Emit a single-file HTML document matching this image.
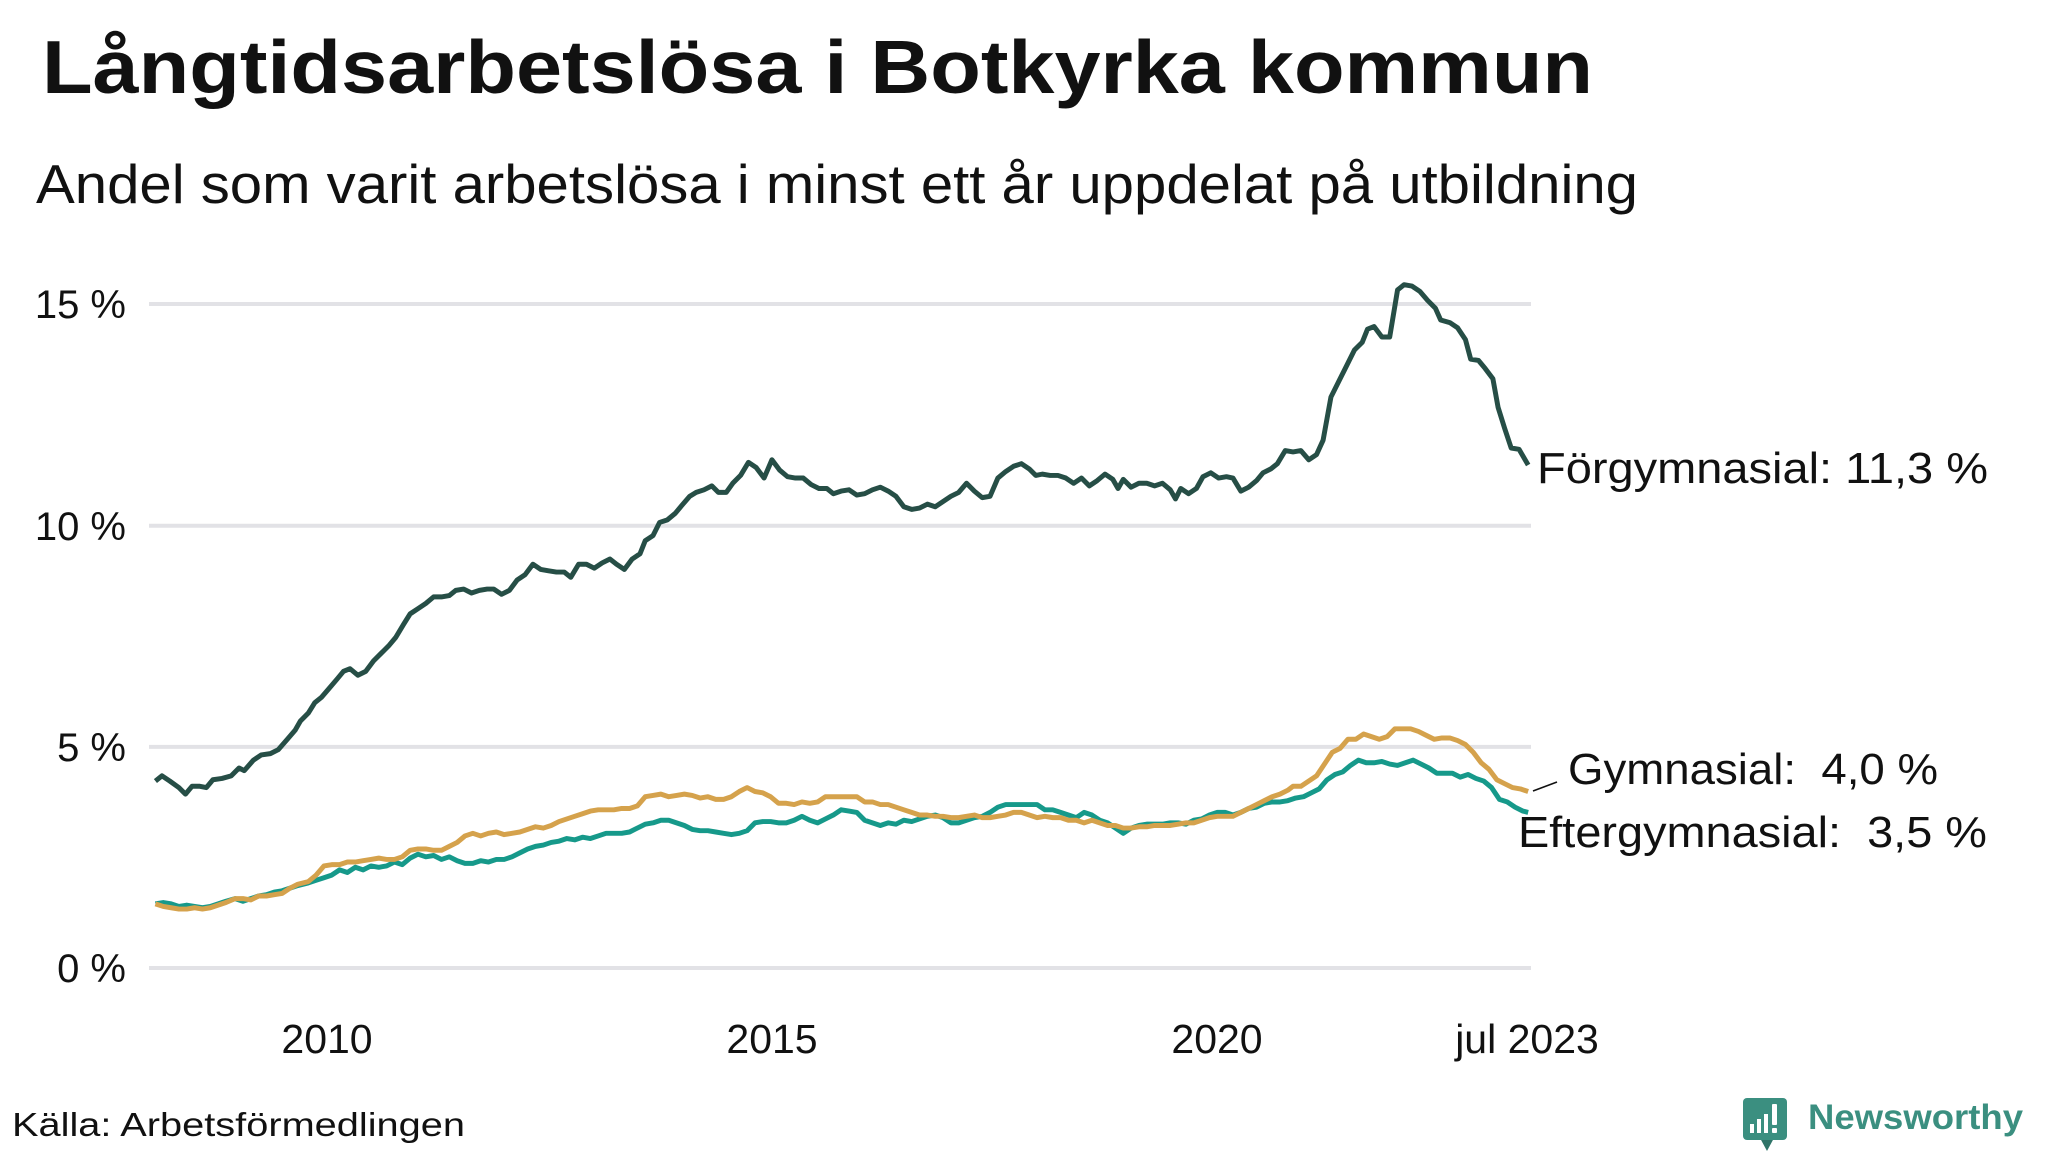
<!DOCTYPE html>
<html>
<head>
<meta charset="utf-8">
<style>
  html,body{margin:0;padding:0;background:#ffffff;}
  svg{display:block;}
  text{font-family:"Liberation Sans", sans-serif; fill:#111111; white-space:pre;}
</style>
</head>
<body>
<svg width="2048" height="1152" viewBox="0 0 2048 1152" xmlns="http://www.w3.org/2000/svg">
  <rect x="0" y="0" width="2048" height="1152" fill="#ffffff"/>

  <!-- Title & subtitle -->
  <text x="42" y="93" font-size="75" font-weight="bold" textLength="1551" lengthAdjust="spacingAndGlyphs">Långtidsarbetslösa i Botkyrka kommun</text>
  <text x="36" y="203" font-size="55" textLength="1602" lengthAdjust="spacingAndGlyphs">Andel som varit arbetslösa i minst ett år uppdelat på utbildning</text>

  <!-- Gridlines -->
  <g stroke="#e2e2e6" stroke-width="4">
    <line x1="149" y1="304" x2="1531" y2="304"/>
    <line x1="149" y1="525.7" x2="1531" y2="525.7"/>
    <line x1="149" y1="746.9" x2="1531" y2="746.9"/>
    <line x1="149" y1="968" x2="1531" y2="968"/>
  </g>

  <!-- Y labels -->
  <g font-size="40" text-anchor="end">
    <text x="126" y="318">15 %</text>
    <text x="126" y="540">10 %</text>
    <text x="126" y="761">5 %</text>
    <text x="126" y="982">0 %</text>
  </g>

  <!-- X labels -->
  <g font-size="41" text-anchor="middle">
    <text x="327" y="1053">2010</text>
    <text x="772" y="1053">2015</text>
    <text x="1217" y="1053">2020</text>
    <text x="1527" y="1053">jul 2023</text>
  </g>

  <!-- Series (drawn in displayed coords, scaled) -->
  <g transform="scale(1.30612)" fill="none" stroke-linejoin="round" stroke-linecap="butt" stroke-width="3.8">
    <polyline stroke="#264e46" points="119,598 124,594 130,598 137,603 142,608 147,602 153,602 158,603 163,597 170,596 177,594 183,588 187,590 194,582 200,578 207,577 213,574 220,566 226,559 230,552 236,546 241,538 246,534 252,527 258,520 263,514 268,512 274,517 280,514 286,506 292,500 298,494 303,488 309,478 314,470 320,466 326,462 332,457 338,457 344,456 349,452 355,451 361,454 367,452 373,451 378,451 384,455 390,452 396,444 402,440 408,432 414,436 420,437 426,438 432,438 437,442 443,432 449,432 455,435 461,431 467,428 472,432 478,436 484,428 490,424 494,414 500,410 505,400 511,398 517,393 522,387 528,380 533,377 539,375 545,372 550,377 556,377 561,370 567,364 573,354 579,358 585,366 591,352 597,360 603,365 609,366 615,366 621,371 627,374 633,374 638,378 644,376 650,375 656,379 662,378 668,375 674,373 680,376 686,380 692,388 698,390 704,389 710,386 716,388 722,384 728,380 734,377 740,370 746,376 752,381 758,380 764,366 770,361 776,357 782,355 788,359 793,364 798,363 804,364 810,364 816,366 822,370 828,366 834,372 840,368 846,363 852,367 856,374 860,367 866,373 872,370 878,370 884,372 890,370 896,375 900,382 904,374 910,378 916,374 921,365 927,362 933,366 939,365 944,366 950,376 956,373 962,368 967,362 973,359 978,355 984,345 990,346 996,345 1002,352 1008,348 1013,337 1019,304 1025,292 1031,280 1037,268 1043,262 1047,252 1052,250 1058,258 1064,258 1070,222 1075,218 1081,219 1087,223 1093,230 1099,236 1103,245 1110,247 1116,251 1122,260 1126,275 1132,276 1137,282 1143,290 1147,312 1152,328 1157,343 1163,344 1170,356"/>
    <polyline stroke="#16998a" points="119,692 125,691 131,692 137,694 143,693 149,694 155,695 161,694 167,692 173,690 180,688 186,690 192,688 198,686 204,685 210,683 216,682 222,680 228,678 236,676 242,674 248,672 254,670 260,666 266,668 272,664 278,666 284,663 290,664 296,663 302,660 308,662 314,657 320,654 326,656 332,655 338,658 344,656 350,659 356,661 362,661 368,659 374,660 380,658 386,658 392,656 398,653 404,650 410,648 416,647 422,645 428,644 434,642 440,643 446,641 452,642 458,640 464,638 470,638 476,638 482,637 488,634 494,631 500,630 506,628 512,628 518,630 524,632 530,635 536,636 542,636 548,637 554,638 560,639 566,638 572,636 578,630 584,629 590,629 596,630 602,630 608,628 614,625 620,628 626,630 632,627 638,624 644,620 650,621 656,622 662,628 668,630 674,632 680,630 686,631 692,628 698,629 704,627 710,625 716,624 722,626 728,630 734,630 740,628 746,626 752,625 758,622 764,618 770,616 776,616 782,616 788,616 794,616 800,620 806,620 812,622 818,624 824,626 830,622 836,624 842,628 848,630 854,634 860,638 866,634 872,632 878,631 884,631 890,631 896,630 902,630 908,631 914,628 920,627 926,624 932,622 938,622 944,624 950,622 956,619 962,618 968,615 974,614 980,614 986,613 992,611 998,610 1004,607 1010,604 1016,597 1022,593 1028,591 1034,586 1040,582 1046,584 1052,584 1058,583 1064,585 1070,586 1076,584 1082,582 1088,585 1094,588 1100,592 1106,592 1112,592 1118,595 1124,593 1130,596 1136,598 1142,603 1148,612 1154,614 1160,618 1166,621 1170,622"/>
    <polyline stroke="#d5a24c" points="119,692 125,694 131,695 137,696 143,696 149,695 155,696 161,695 167,693 173,691 180,688 186,688 192,689 198,686 204,686 210,685 216,684 222,680 228,677 236,675 242,670 248,663 254,662 260,662 266,660 272,660 278,659 284,658 290,657 296,658 302,658 308,656 314,651 320,650 326,650 332,651 338,651 344,648 350,645 356,640 362,638 368,640 374,638 380,637 386,639 392,638 398,637 404,635 410,633 416,634 422,632 428,629 434,627 440,625 446,623 452,621 458,620 464,620 470,620 476,619 482,619 488,617 494,610 500,609 506,608 512,610 518,609 524,608 530,609 536,611 542,610 548,612 554,612 560,610 566,606 572,603 578,606 584,607 590,610 596,615 602,615 608,616 614,614 620,615 626,614 632,610 638,610 644,610 650,610 656,610 662,614 668,614 674,616 680,616 686,618 692,620 698,622 704,624 710,624 716,625 722,625 728,626 734,626 740,625 746,624 752,626 758,626 764,625 770,624 776,622 782,622 788,624 794,626 800,625 806,626 812,626 818,628 824,628 830,630 836,628 842,630 848,632 854,632 860,634 866,634 872,633 878,633 884,632 890,632 896,632 902,631 908,630 914,630 920,628 926,626 932,625 938,625 944,625 950,622 956,619 962,616 968,613 974,610 980,608 986,605 990,602 996,602 1002,598 1008,594 1014,585 1020,576 1026,573 1032,566 1038,566 1044,562 1050,564 1056,566 1062,564 1068,558 1074,558 1080,558 1086,560 1092,563 1098,566 1104,565 1110,565 1116,567 1122,570 1128,576 1134,584 1140,589 1146,597 1152,600 1158,603 1164,604 1170,606"/>
  </g>

  <!-- Series labels -->
  <g font-size="44">
    <text x="1537" y="483" textLength="451" lengthAdjust="spacingAndGlyphs">Förgymnasial: 11,3 %</text>
    <text x="1568" y="784" textLength="370" lengthAdjust="spacingAndGlyphs">Gymnasial:  4,0 %</text>
    <text x="1518" y="847" textLength="469" lengthAdjust="spacingAndGlyphs">Eftergymnasial:  3,5 %</text>
  </g>
  <line x1="1533" y1="791" x2="1557" y2="782" stroke="#111111" stroke-width="1.6"/>

  <!-- Footer -->
  <text x="12" y="1136" font-size="33" textLength="453" lengthAdjust="spacingAndGlyphs">Källa: Arbetsförmedlingen</text>

  <!-- Logo -->
  <g>
    <path d="M1760,1138 L1767,1151 L1774,1138 Z" fill="#2f7468"/>
    <rect x="1743" y="1098" width="44" height="42" rx="4" ry="4" fill="#3b8f80"/>
    <rect x="1750" y="1124" width="4" height="9" fill="#ffffff"/>
    <rect x="1757" y="1119" width="4" height="14" fill="#ffffff"/>
    <rect x="1764" y="1114" width="4" height="19" fill="#ffffff"/>
    <rect x="1772" y="1104" width="5" height="21" rx="1" fill="#ffffff"/>
    <rect x="1772" y="1128" width="5" height="5" rx="1" fill="#ffffff"/>
    <text x="1808" y="1129" font-size="35" font-weight="bold" style="fill:#3b8f80" textLength="215" lengthAdjust="spacingAndGlyphs">Newsworthy</text>
  </g>
</svg>
</body>
</html>
